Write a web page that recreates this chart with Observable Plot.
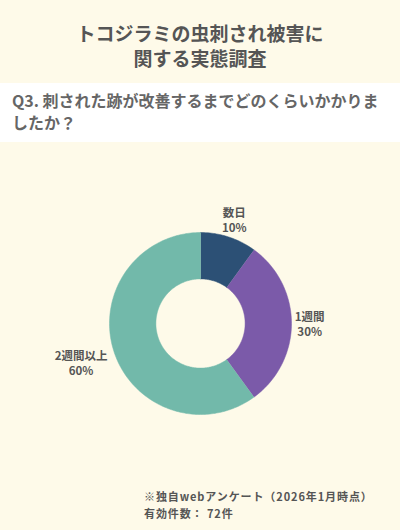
<!DOCTYPE html>
<html>
<head>
<meta charset="utf-8">
<script src="https://cdn.jsdelivr.net/npm/d3@7"></script>
<script src="https://cdn.jsdelivr.net/npm/@observablehq/plot@0.6"></script>
<style>
  html, body { margin: 0; padding: 0; }
  body { width: 400px; height: 530px; background: #fefae9; font-family: "Noto Sans CJK JP", "Noto Sans", sans-serif; overflow: hidden; }
  #title { height: 83px; box-sizing: border-box; padding-top: 20px; text-align: center; font-size: 19px; line-height: 25px; font-weight: bold; color: #555; }
  #question { height: 59px; box-sizing: border-box; background: #ffffff; padding: 6px 6px 0 12px; font-size: 16px; line-height: 22px; font-weight: bold; color: #666; white-space: nowrap; }
  #chart svg { display: block; overflow: visible; }
  #note { padding-top: 16px; padding-left: 144px; font-size: 11px; line-height: 17px; font-weight: bold; color: #555; letter-spacing: 0.9px; }
</style>
</head>
<body>
<div id="title">トコジラミの虫刺され被害に<br>関する実態調査</div>
<div id="question">Q3. 刺された跡が改善するまでどのくらいかかりま<br>したか？</div>
<div id="chart"></div>
<div id="note">※独自webアンケート（2026年1月時点）<br>有効件数： 72件</div>
<script>
const categories = ["数日", "1週間", "2週間以上"];
const values = [10, 30, 60];
const percentLabels = ["10%", "30%", "60%"];
const colors = ["#2c5075", "#7b5aa9", "#72b9aa"];

const innerRatio = 0.49;
const arcs = d3.pie().sort(null)(values);

const points = [];
arcs.forEach((a, i) => {
  const steps = Math.max(2, Math.ceil((a.endAngle - a.startAngle) / (Math.PI / 180)));
  for (let k = 0; k <= steps; k++) {
    const t = a.startAngle + (a.endAngle - a.startAngle) * k / steps;
    points.push({cat: categories[i], x: Math.sin(t), y: Math.cos(t)});
  }
  for (let k = steps; k >= 0; k--) {
    const t = a.startAngle + (a.endAngle - a.startAngle) * k / steps;
    points.push({cat: categories[i], x: Math.sin(t) * innerRatio, y: Math.cos(t) * innerRatio});
  }
});

const labels = arcs.map((a, i) => {
  const mid = (a.startAngle + a.endAngle) / 2;
  const extra = Math.max(0, categories[i].length - 3) * 0.09;
  const r = 1.2 + extra;
  return {text: categories[i] + "\n" + percentLabels[i], x: Math.sin(mid) * r, y: Math.cos(mid) * r};
});

const chart = Plot.plot({
  width: 400,
  height: 330,
  marginLeft: 109,
  marginRight: 109,
  marginTop: 90,
  marginBottom: 58,
  x: {domain: [-1, 1], axis: null},
  y: {domain: [-1, 1], axis: null},
  color: {domain: categories, range: colors},
  style: {background: "transparent", fontFamily: "'Noto Sans CJK JP', sans-serif", overflow: "visible"},
  marks: [
    Plot.line(points, {x: "x", y: "y", z: "cat", fill: "cat", stroke: "cat", strokeWidth: 0.5, curve: "linear"}),
    Plot.text(labels, {x: "x", y: "y", text: "text", fill: "#555", fontWeight: "bold", fontSize: 11.5, lineHeight: 1.3})
  ]
});
document.getElementById("chart").appendChild(chart);
</script>
</body>
</html>
